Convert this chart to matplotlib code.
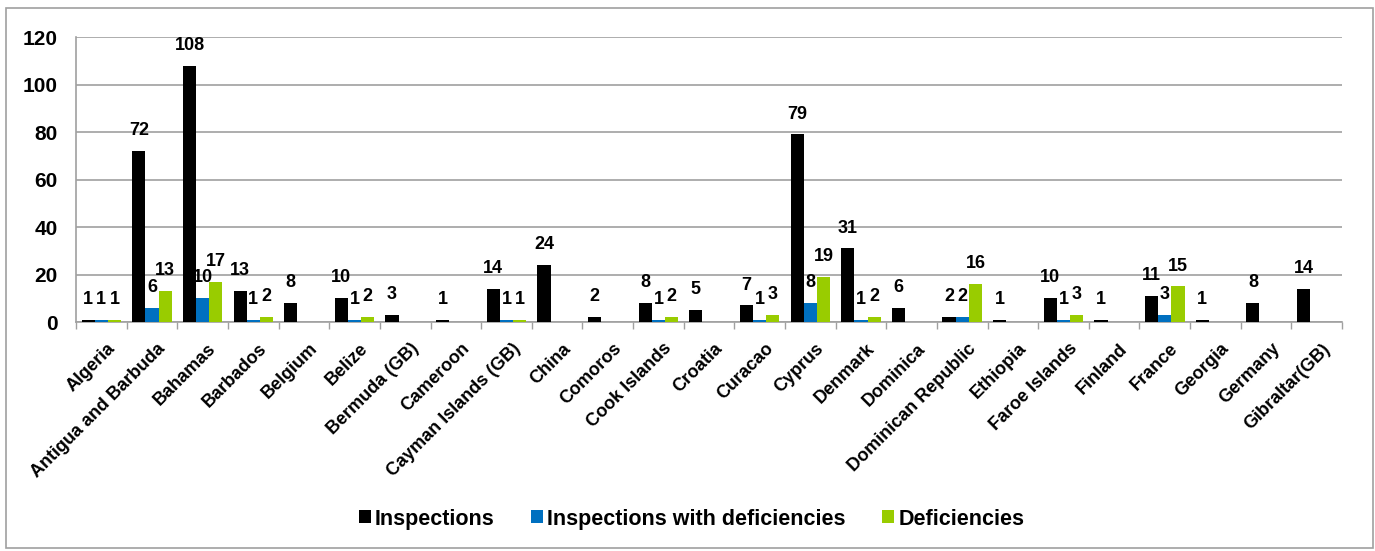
import matplotlib
matplotlib.use("Agg")
import matplotlib.pyplot as plt
import matplotlib.transforms as mtransforms
import numpy as np
from matplotlib.patches import Rectangle

countries = ["Algeria", "Antigua and Barbuda", "Bahamas", "Barbados", "Belgium", "Belize",
             "Bermuda (GB)", "Cameroon", "Cayman Islands (GB)", "China", "Comoros",
             "Cook Islands", "Croatia", "Curacao", "Cyprus", "Denmark", "Dominica",
             "Dominican Republic", "Ethiopia", "Faroe Islands", "Finland", "France",
             "Georgia", "Germany", "Gibraltar(GB)"]
inspections = [1, 72, 108, 13, 8, 10, 3, 1, 14, 24, 2, 8, 5, 7, 79, 31, 6, 2, 1, 10, 1, 11, 1, 8, 14]
insp_def = [1, 6, 10, 1, 0, 1, 0, 0, 1, 0, 0, 1, 0, 1, 8, 1, 0, 2, 0, 1, 0, 3, 0, 0, 0]
deficiencies = [1, 13, 17, 2, 0, 2, 0, 0, 1, 0, 0, 2, 0, 3, 19, 2, 0, 16, 0, 3, 0, 15, 0, 0, 0]
series_names = ["Inspections", "Inspections with deficiencies", "Deficiencies"]
colors = ["#000000", "#0070C0", "#99CC00"]
yticks = [0, 20, 40, 60, 80, 100, 120]

plt.rcParams['font.family'] = ['Liberation Sans', 'DejaVu Sans']
plt.rcParams['font.weight'] = 'bold'

fig = plt.figure(figsize=(13.75, 5.51), dpi=100)
ax = fig.add_axes([0.0553, 0.4156, 0.9207, 0.5172])

x = np.arange(len(countries))
w = 0.26
series = [inspections, insp_def, deficiencies]
for i, (vals, c, name) in enumerate(zip(series, colors, series_names)):
    pos = x + (i - 1) * w
    ax.bar(pos, vals, width=w, color=c, label=name, zorder=3)
    for p, v in zip(pos, vals):
        if v > 0:
            ax.annotate(str(v), (p, v), xytext=(0, 8.5), textcoords="offset points",
                        ha="center", va="bottom", fontsize=13, fontweight="bold")

ax.set_xlim(-0.5, len(countries) - 0.5)
ax.set_ylim(0, 120)
ax.set_yticks(yticks)
ax.set_yticklabels([str(t) for t in yticks], fontsize=15, fontweight="bold")
ax.yaxis.grid(True, color="#A0A0A0", linewidth=1.2, zorder=0)
ax.tick_params(axis="y", length=0, pad=13)

ax.set_xticks(x)
ax.set_xticklabels(countries, rotation=45, ha="right", rotation_mode="anchor",
                   fontsize=13, fontweight="bold")
ax.tick_params(axis="x", length=0, pad=13)
shift = mtransforms.ScaledTranslation(5 / 100, 0, fig.dpi_scale_trans)
for lab in ax.get_xticklabels():
    lab.set_transform(lab.get_transform() + shift)
ax.set_xticks(np.arange(-0.5, len(countries), 1), minor=True)
ax.tick_params(axis="x", which="minor", length=5, color="#A0A0A0", width=1)

for s in ["top", "right"]:
    ax.spines[s].set_visible(False)
ax.spines["left"].set_color("#A0A0A0")
ax.spines["bottom"].set_color("#A0A0A0")
ax.spines["left"].set_linewidth(1.2)
ax.spines["bottom"].set_linewidth(1.2)

leg = fig.legend(loc="center", bbox_to_anchor=(0.503, 0.058), ncol=3, frameon=False,
                 prop={"size": 15.5, "weight": "bold"}, handlelength=0.55, handleheight=0.55,
                 handletextpad=0.2, columnspacing=1.7)

fig.patches.append(Rectangle((0.004, 0.006), 0.9945, 0.98, transform=fig.transFigure,
                             fill=False, edgecolor="#A0A0A0", linewidth=1.2))

fig.savefig("out.png", dpi=100)
